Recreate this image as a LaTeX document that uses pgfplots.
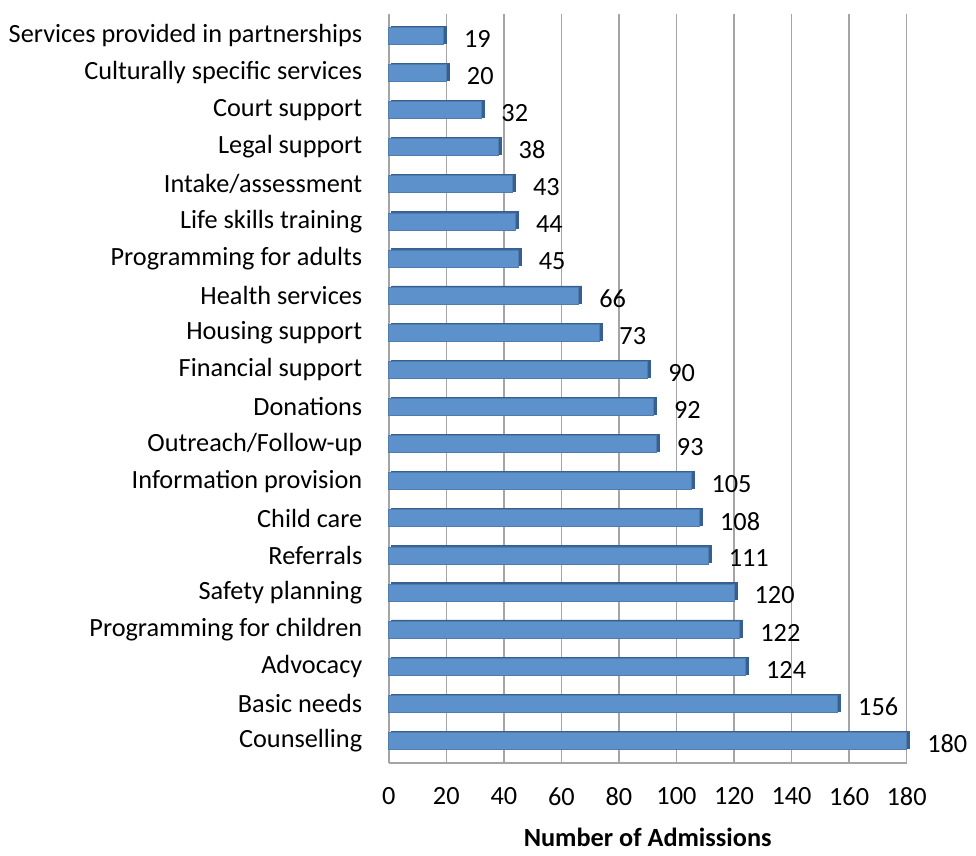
\documentclass[border=0pt]{standalone}
\usepackage{pgfplots}
\pgfplotsset{compat=1.18}
\usepackage{pgfplotstable}
\usepackage{fontspec}
\setmainfont{Carlito}
\definecolor{barfill}{RGB}{93,145,204}
\definecolor{barside}{RGB}{55,96,146}
\definecolor{gridgray}{RGB}{165,165,165}
\pgfplotstableread[col sep=comma]{
idx,val
0,180
1,156
2,124
3,122
4,120
5,111
6,108
7,105
8,93
9,92
10,90
11,73
12,66
13,45
14,44
15,43
16,38
17,32
18,20
19,19
}\datatab
\begin{document}
\fontsize{13.6}{16}\selectfont
\begin{tikzpicture}
\begin{axis}[
  scale only axis,
  width=268pt, height=388pt,
  xmin=0, xmax=180,
  ymin=-0.6, ymax=19.6,
  xtick={0,20,...,180},
  ytick={0,...,19},
  yticklabels={Counselling,Basic needs,Advocacy,Programming for children,Safety planning,Referrals,Child care,Information provision,Outreach/Follow-up,Donations,Financial support,Housing support,Health services,Programming for adults,Life skills training,Intake/assessment,Legal support,Court support,Culturally specific services,Services provided in partnerships},
  major tick length=0pt,
  xmajorgrids,
  grid style={gridgray, line width=0.8pt},
  axis x line*=bottom,
  axis y line*=left,
  axis line style={gridgray, line width=0.8pt, -},
  tick label style={font=\fontsize{13.6}{16}\selectfont},
  yticklabel style={xshift=-9pt},
  xticklabel style={anchor=center, yshift=-17.2pt},
  /pgf/number format/assume math mode=true,
  xlabel={\textbf{Number of Admissions}},
  xlabel style={at={(axis description cs:0.5,0)}, anchor=center, yshift=-38.6pt, font=\fontsize{13.6}{16}\selectfont\bfseries},
  clip=false,
]
\addplot[xbar, bar width=8.8pt, fill=barside, draw=barside, xshift=1.6pt, bar shift=0.6pt, forget plot] table[x=val, y=idx] {\datatab};
\addplot[xbar, bar width=8.8pt, fill=barfill, draw=barfill!85!black, line width=0.3pt,
  nodes near coords, point meta=x,
  every node near coord/.append style={anchor=west, xshift=6pt, yshift=-1.5pt, font=\fontsize{13.6}{16}\selectfont, black}]
  table[x=val, y=idx] {\datatab};
\path (axis description cs:0.5,1.018);
\end{axis}
\end{tikzpicture}
\end{document}
